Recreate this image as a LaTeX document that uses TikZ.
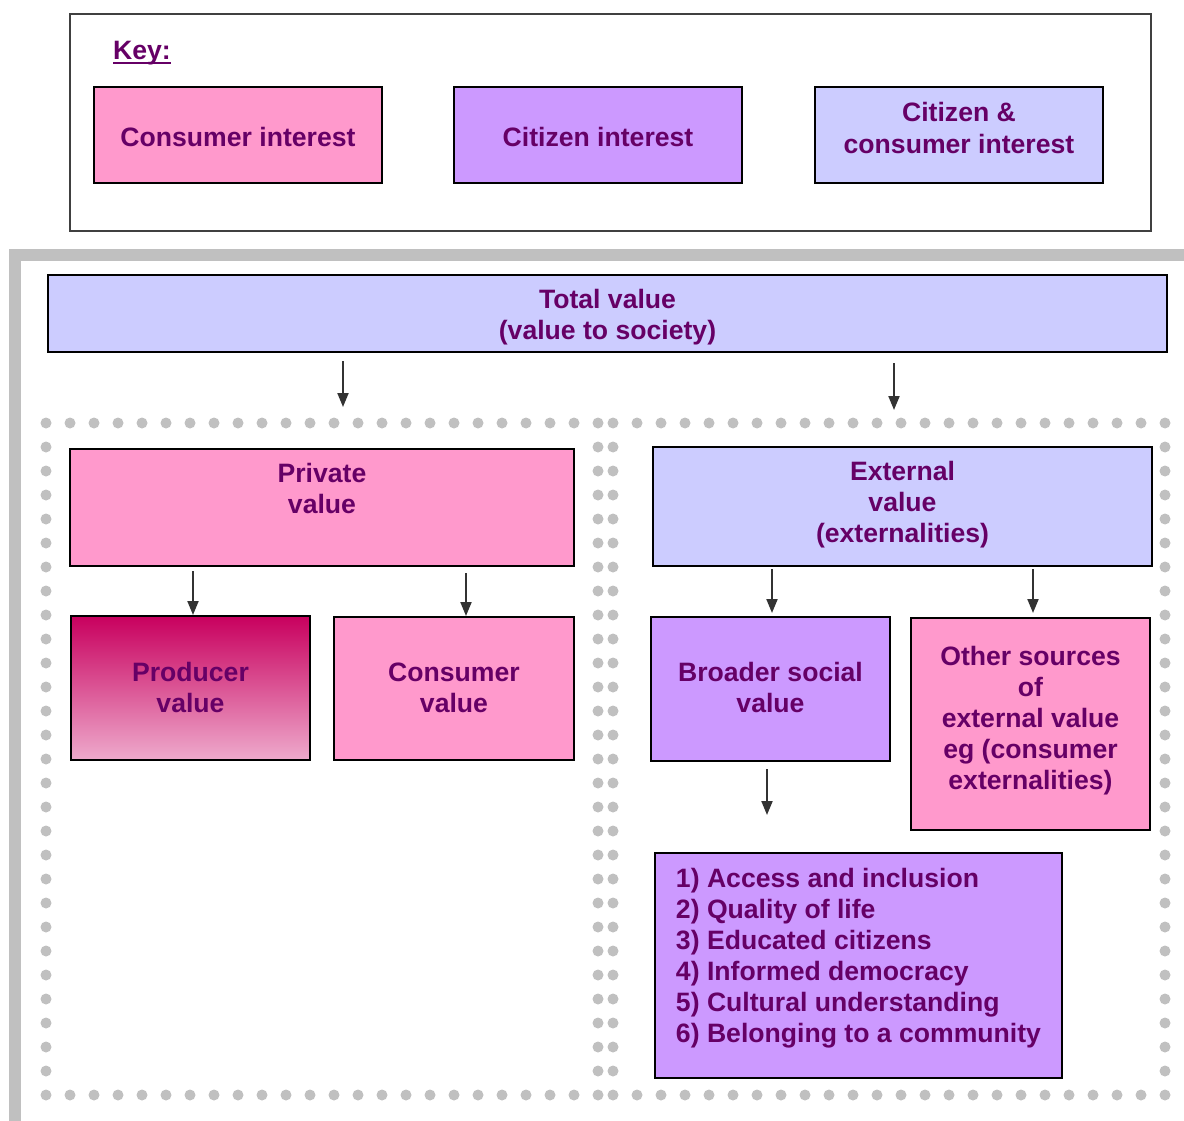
\documentclass[tikz,border=0pt]{standalone}
\usepackage{fontspec}
\setmainfont{Liberation Sans}
\usetikzlibrary{arrows.meta}
\definecolor{txt}{HTML}{660066}
\definecolor{pinkc}{HTML}{FF99CC}
\definecolor{purpc}{HTML}{CC99FF}
\definecolor{lavc}{HTML}{CCCCFF}
\definecolor{dotc}{HTML}{C0C0C0}
\definecolor{arrc}{HTML}{333333}
\definecolor{keyc}{HTML}{404040}
\definecolor{prodtop}{HTML}{C8005E}
\definecolor{prodbot}{HTML}{EEAACC}
% #1 = number of lines, #2 = upward shift of the text inside its box, #3 = text
\newcommand{\tbc}[3]{\raisebox{#2}[\dimexpr 31pt*(#1-1)+21.7pt\relax][9.3pt]{\begin{tabular}[b]{@{}c@{}}#3\end{tabular}}}
\newcommand{\tbl}[3]{\raisebox{#2}[\dimexpr 31pt*(#1-1)+21.7pt\relax][9.3pt]{\begin{tabular}[b]{@{}l@{}}#3\end{tabular}}}
\begin{document}
\begin{tikzpicture}[x=1pt,y=-1pt,
  lbl/.style={font=\fontsize{26.6}{31}\selectfont\bfseries, text=txt, align=center, inner sep=0pt},
  box/.style={lbl, draw=black, line width=2pt},
  pinkbox/.style={box, fill=pinkc},
  purpbox/.style={box, fill=purpc},
  lavbox/.style={box, fill=lavc},
  arr/.style={draw=arrc, line width=2pt, -{Triangle[width=11pt,length=14pt]}},
  dotframe/.style={draw=dotc, line width=11pt, line cap=round, dash pattern=on 0pt off 24pt}
]
\useasboundingbox (0,0) rectangle (1184,1121);

% key
\node[draw=keyc, line width=2pt, minimum width=1081pt, minimum height=217pt, inner sep=0pt] (keybox) at (610.5,122.5) {};
\node[lbl, anchor=base west] (keytitle) at (113,60) {Key:};
\draw[txt, line width=2.2pt] ([yshift=-3pt]keytitle.base west) -- ([yshift=-3pt]keytitle.base east);
\node[pinkbox, minimum width=288pt, minimum height=96pt] (k1) at (238,135) {\tbc{1}{-5pt}{Consumer interest}};
\node[purpbox, minimum width=288pt, minimum height=96pt] (k2) at (598,135) {\tbc{1}{-5pt}{Citizen interest}};
\node[lavbox, minimum width=288pt, minimum height=96pt] (k3) at (959,135) {\tbc{2}{3pt}{Citizen \&\\[1pt]consumer interest}};

% grey frame
\fill[dotc] (9,249) rectangle (1184,261);
\fill[dotc] (9,249) rectangle (21,1121);

% dotted frames
\draw[dotframe] (46,423) rectangle (598,1095);
\draw[dotframe] (613,423) rectangle (1165,1095);

% total
\node[lavbox, minimum width=1119pt, minimum height=77pt] (total) at (607.5,313.5) {\tbc{2}{-4.5pt}{Total value\\(value to society)}};

% private
\node[pinkbox, minimum width=504pt, minimum height=117pt] (private) at (322,507.5) {};
\node[lbl, anchor=north] (privtext) at (322,463) {Private\\value};

% external
\node[lavbox, minimum width=499pt, minimum height=119pt] (external) at (902.5,506.5) {\tbc{3}{1pt}{External\\value\\(externalities)}};

% producer / consumer value
\node[box, top color=prodtop, bottom color=prodbot, minimum width=239pt, minimum height=144pt] (producer) at (190.5,688) {\tbc{2}{-3pt}{Producer\\value}};
\node[pinkbox, minimum width=240pt, minimum height=143pt] (consumer) at (454,688.5) {\tbc{2}{-2pt}{Consumer\\value}};

% broader / other
\node[purpbox, minimum width=239pt, minimum height=144pt] (broader) at (770.5,689) {\tbc{2}{-2pt}{Broader social\\value}};
\node[pinkbox, minimum width=239pt, minimum height=212pt] (other) at (1030.5,724) {\tbc{5}{2.5pt}{Other sources\\of\\external value\\eg (consumer\\externalities)}};

% list
\node[purpbox, minimum width=407pt, minimum height=225pt] (list) at (858.5,965.5) {\tbl{6}{6.5pt}{1) Access and inclusion\\2) Quality of life\\3) Educated citizens\\4) Informed democracy\\5) Cultural understanding\\6) Belonging to a community}};

% arrow x positions
\coordinate (ax1) at (343,407);
\coordinate (ax2) at (894,410);
\coordinate (ax3) at (193,0);
\coordinate (ax4) at (466,0);
\coordinate (ax5) at (772,0);
\coordinate (ax6) at (1033,0);
\coordinate (ax7) at (767,815);

\draw[arr, shorten <=8pt] (total.south -| ax1) -- (ax1);
\draw[arr, shorten <=10pt] (total.south -| ax2) -- (ax2);
\draw[arr, shorten <=4pt] (private.south -| ax3) -- (producer.north -| ax3);
\draw[arr, shorten <=6pt] (private.south -| ax4) -- (consumer.north -| ax4);
\draw[arr, shorten <=2pt, shorten >=3pt] (external.south -| ax5) -- (broader.north -| ax5);
\draw[arr, shorten <=2pt, shorten >=4pt] (external.south -| ax6) -- (other.north -| ax6);
\draw[arr, shorten <=7pt] (broader.south -| ax7) -- (ax7);
\end{tikzpicture}
\end{document}
